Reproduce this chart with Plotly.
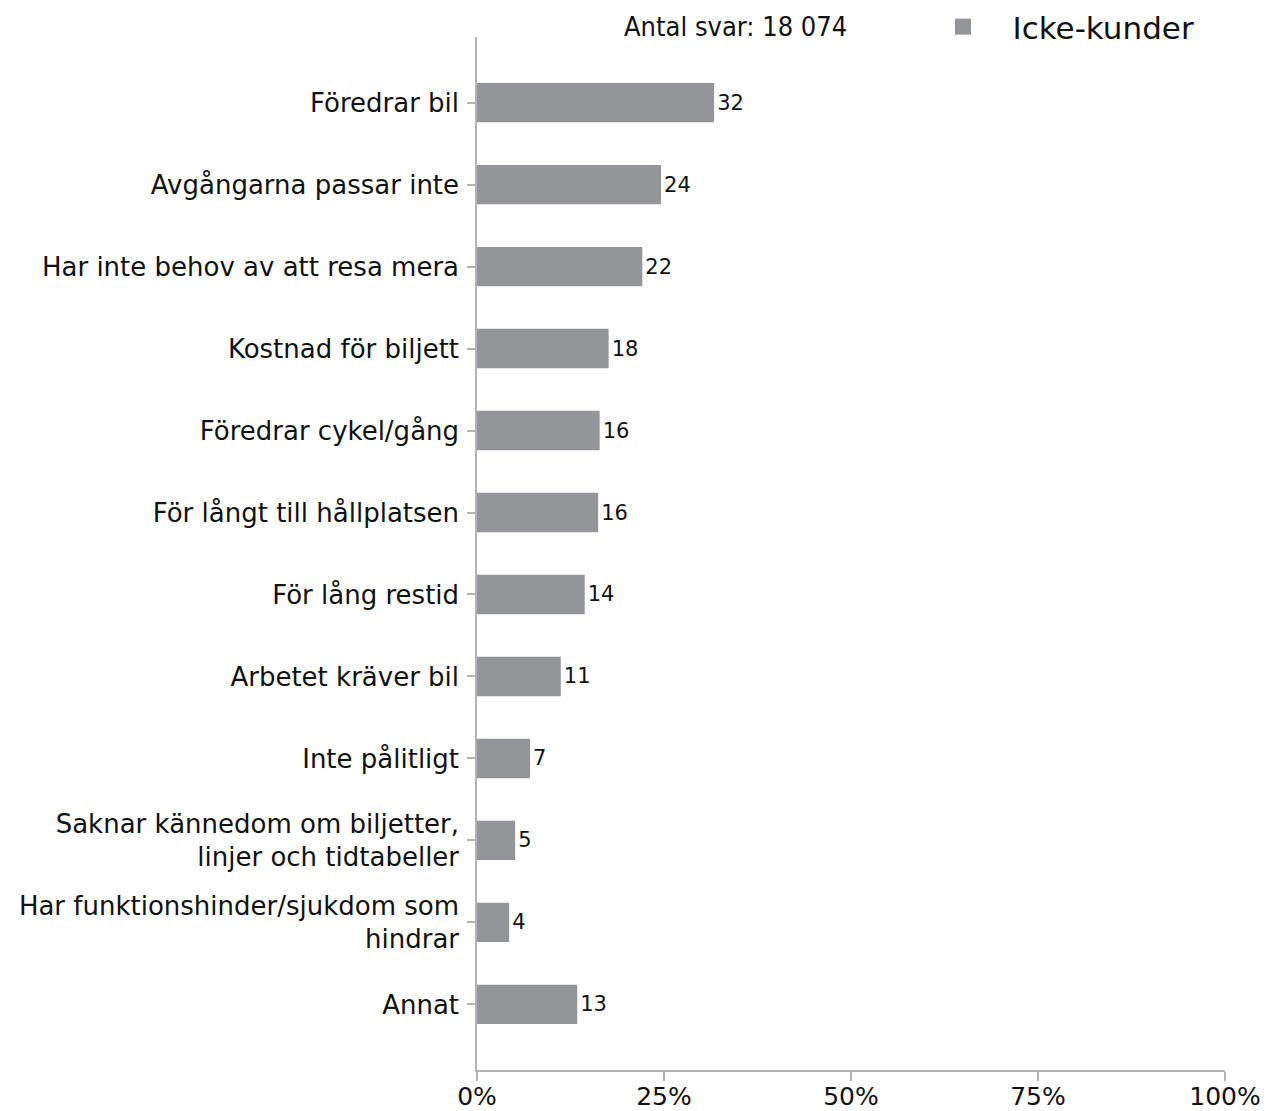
import plotly.graph_objects as go

categories = [
    "Föredrar bil",
    "Avgångarna passar inte",
    "Har inte behov av att resa mera",
    "Kostnad för biljett",
    "Föredrar cykel/gång",
    "För långt till hållplatsen",
    "För lång restid",
    "Arbetet kräver bil",
    "Inte pålitligt",
    "Saknar kännedom om biljetter,<br>linjer och tidtabeller",
    "Har funktionshinder/sjukdom som<br>hindrar",
    "Annat",
]
values = [31.7, 24.6, 22.1, 17.6, 16.4, 16.2, 14.4, 11.2, 7.1, 5.1, 4.3, 13.4]
value_labels = ["32", "24", "22", "18", "16", "16", "14", "11", "7", "5", "4", "13"]
series_name = "Icke-kunder"
x_ticks = [0, 25, 50, 75, 100]
x_ticktext = ["0%", "25%", "50%", "75%", "100%"]
respondents_note = "Antal svar: 18 074"

FONT = "DejaVu Sans"
NOTE_FONT = "DejaVu Sans Condensed"
BAR_COLOR = "#939598"
AXIS_COLOR = "#b3b3b3"
TEXT_COLOR = "#111111"

fig = go.Figure()
fig.add_trace(go.Bar(
    y=categories,
    x=values,
    orientation="h",
    name=series_name,
    marker=dict(color=BAR_COLOR, line=dict(width=0)),
    width=0.48,
    text=value_labels,
    textposition="outside",
    cliponaxis=False,
    textfont=dict(family=FONT, size=21, color=TEXT_COLOR),
    showlegend=False,
))
# legend entry for the series
fig.add_trace(go.Scatter(
    x=[None], y=[None], mode="markers",
    name="\u00a0\u00a0\u00a0" + series_name,
    marker=dict(symbol="square", size=22, color=BAR_COLOR),
    showlegend=True,
))

fig.update_layout(
    width=1272, height=1111,
    margin=dict(l=469, r=55, t=29, b=49, autoexpand=False),
    paper_bgcolor="white", plot_bgcolor="white",
    font=dict(family=FONT, color=TEXT_COLOR, size=24),
    showlegend=True,
    legend=dict(
        orientation="h", x=(935 - 469) / 748, xanchor="left",
        y=1.0097, yanchor="middle",
        font=dict(family=FONT, size=31, color=TEXT_COLOR),
        bgcolor="rgba(0,0,0,0)",
    ),
    xaxis=dict(
        range=[0, 100], tickvals=x_ticks, ticktext=x_ticktext,
        showgrid=False, zeroline=False, automargin=False,
        showline=True, linecolor=AXIS_COLOR, linewidth=1.5,
        ticks="outside", ticklen=9, tickcolor=AXIS_COLOR, tickwidth=1.5,
        tickfont=dict(family=FONT, size=25, color=TEXT_COLOR),
        ticklabelstandoff=-6,
    ),
    yaxis=dict(
        type="category", range=[11.8, -0.8],
        showgrid=False, zeroline=False, automargin=False,
        showline=True, linecolor=AXIS_COLOR, linewidth=1.5,
        ticks="outside", ticklen=8, tickcolor=AXIS_COLOR, tickwidth=1.5,
        tickfont=dict(family=FONT, size=26, color=TEXT_COLOR),
        ticklabelstandoff=3,
    ),
    annotations=[dict(
        text=respondents_note, xref="paper", yref="paper",
        x=0.345, y=1.0106, xanchor="center", yanchor="middle",
        showarrow=False, font=dict(family=NOTE_FONT, size=27, color=TEXT_COLOR),
    )],
)

fig.write_html("out.html")
